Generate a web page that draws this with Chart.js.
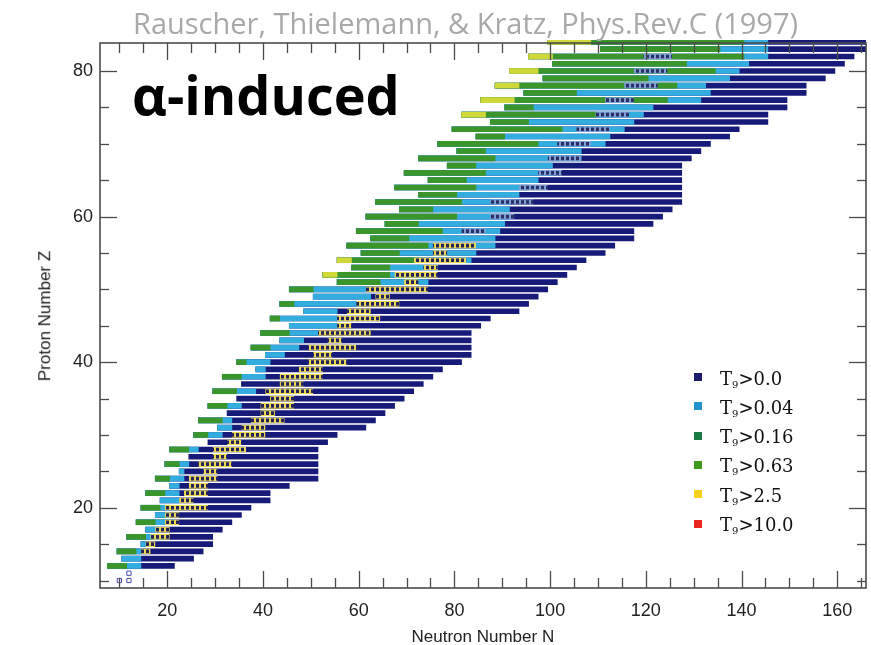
<!DOCTYPE html>
<html>
<head>
<meta charset="utf-8">
<script src="https://cdn.jsdelivr.net/npm/chart.js@4.4.0/dist/chart.umd.min.js"></script>
<style>
body{margin:0;background:#fff;}
#wrap{position:relative;width:871px;height:645px;overflow:hidden;}
#wrap canvas{position:absolute;left:0;top:0;}
.txt{position:absolute;white-space:nowrap;line-height:1;}
#source{left:133px;top:3px;font:29px "Open Sans";color:#a9a9a9;}
#tag{left:132px;top:57px;font:bold 54px "Open Sans";color:#000;}
#xtitle{top:627px;font:17px "Liberation Sans";color:#222;}
#ytitle{font:17px "Liberation Sans";color:#222;}
.legbox{position:absolute;width:8px;height:8px;}
.legtxt{position:absolute;left:720px;font:18px "DejaVu Serif";color:#111;white-space:nowrap;line-height:1;}
.legtxt sub{font-size:10px;vertical-align:-3px;}
</style>
</head>
<body>
<div id="wrap">
  <canvas id="chart" width="871" height="645"></canvas>
  <div class="txt" id="source">Rauscher, Thielemann, &amp; Kratz, Phys.Rev.C (1997)</div>
  <div class="txt" id="tag">α-induced</div>
  <div class="txt" id="xtitle">Neutron Number N</div>
  <div class="txt" id="ytitle">Proton Number Z</div>
</div>
<script>
//--------------------------------------------------
// DATA
//--------------------------------------------------

// one row per proton number
const protonZ = [
  12,13,14,15,16,17,18,19,20,21,
  22,23,24,25,26,27,28,29,30,31,
  32,33,34,35,36,37,38,39,40,41,
  42,43,44,45,46,47,48,49,50,51,
  52,53,54,55,56,57,58,59,60,61,
  62,63,64,65,66,67,68,69,70,71,
  72,73,74,75,76,77,78,79,80,81,
  82,83,84
];

// lightest / heaviest neutron number in each row
const nMin = [
  8,11,10,15,12,16,14,18,15,19,
  16,21,18,23,20,25,21,29,26,31,
  27,33,29,35,30,36,32,39,35,41,
  38,44,40,46,42,49,44,51,46,56,
  53,59,56,61,58,63,60,66,62,69,
  64,73,68,75,70,79,73,81,77,85,
  80,88,82,91,86,95,89,99,92,101,
  96,111,100
];
const nMax = [
  21,25,27,29,29,31,33,35,37,41,
  41,45,51,51,51,51,51,53,55,61,
  63,65,67,69,71,73,75,77,81,83,
  83,83,83,85,87,93,95,97,99,101,
  103,105,107,111,113,117,117,121,123,125,
  127,127,127,127,127,127,129,131,133,137,
  139,145,145,149,149,153,153,157,159,161,
  163,166,166
];

// last N of each colour band, counted from nMin (0 = no band)
const yellowEnd = [
  0,0,0,0,0,0,0,0,0,0,
  0,0,0,0,0,0,0,0,0,0,
  0,0,0,0,0,0,0,0,0,0,
  0,0,0,0,0,0,0,0,0,0,
  55,0,58,0,0,0,0,0,0,0,
  0,0,0,0,0,0,0,0,0,0,
  0,0,86,0,92,0,93,0,97,0,
  100,0,108
];
const greenEnd = [
  11,0,13,0,15,0,17,0,18,0,
  19,0,20,0,22,0,24,0,28,0,
  31,0,32,0,34,0,35,0,36,0,
  41,0,45,0,43,0,46,0,50,64,
  66,66,72,68,74,70,77,72,80,75,
  81,80,84,82,86,84,88,86,97,90,
  102,95,109,96,124,105,126,120,134,128,
  140,135,140
];
const cyanEnd = [
  14,14,15,15,19,18,21,20,20,22,
  22,22,23,23,24,0,26,0,31,33,
  33,0,35,0,38,0,40,40,41,44,
  47,48,51,55,55,55,60,62,62,74,
  74,76,83,84,88,88,89,90,91,91,
  91,93,95,97,100,100,106,106,111,112,
  115,117,119,121,131,133,132,137,139,141,
  145,145,145
];

// stable nuclei along the valley
const stableLo = [
  0,0,15,16,17,18,20,20,20,23,
  24,25,25,28,27,30,30,33,34,36,
  38,40,40,42,41,44,44,48,50,51,
  50,54,52,56,56,58,60,64,62,70,
  68,74,72,76,76,0,82,0,88,0,
  88,0,94,0,98,0,100,0,102,0,
  106,0,110,0,112,0,116,0,118,0,
  120,0,0
];
const stableHi = [
  0,0,16,17,20,20,22,22,28,25,
  28,28,30,30,33,32,36,35,40,40,
  44,42,46,46,50,48,52,52,57,54,
  59,56,62,58,64,62,68,66,74,72,
  76,76,82,78,84,0,86,0,92,0,
  96,0,99,0,102,0,106,0,108,0,
  112,0,116,0,117,0,122,0,124,0,
  125,0,0
];

// light nuclei drawn as open squares
const lightN = [10, 12, 12];
const lightZ = [10, 10, 11];

const xTickValues = [20, 40, 60, 80, 100, 120, 140, 160];
const yTickValues = [20, 40, 60, 80];

const legendThresholds = ['0.0', '0.04', '0.16', '0.63', '2.5', '10.0'];
const legendColors = ['#1b1b6b', '#1e96cc', '#1a7a44', '#3e9a1c', '#f2d21a', '#e8261e'];

//--------------------------------------------------
// BUILD BARS
//--------------------------------------------------

function band(endArr){
  const out = [];
  protonZ.forEach((z, i) => {
    if(endArr[i] >= nMin[i]) out.push({y: z, x: [nMin[i] - 0.5, endArr[i] + 0.5]});
  });
  return out;
}

function stableBand(){
  const out = [];
  protonZ.forEach((z, i) => {
    if(stableLo[i] > 0) out.push({y: z, x: [stableLo[i] - 0.5, stableHi[i] + 0.5]});
  });
  return out;
}

// little boxed dots (ring colour around a dark core)
function dotPattern(ring, core){
  const c = document.createElement('canvas');
  c.width = 5; c.height = 1;
  const g = c.getContext('2d');
  g.fillStyle = ring; g.fillRect(0, 0, 5, 1);
  g.fillStyle = core; g.fillRect(1, 0, 3, 1);
  return g.createPattern(c, 'repeat');
}
const yellowDots = dotPattern('#ecd850', '#23235e');
const blueDots = dotPattern('#7d9fd4', '#2a2f66');

function barSet(data, color, order){
  return {
    type: 'bar', indexAxis: 'y', data, order,
    backgroundColor: color, borderWidth: 0,
    barThickness: 5, grouped: false,
    clip: {left: 0, top: 3, right: 0, bottom: 0}
  };
}

const datasets = [
  barSet(band(nMax), '#161a78', 6),
  barSet(band(cyanEnd), '#33ade0', 5),
  barSet(band(greenEnd), '#3a952a', 4),
  barSet(band(yellowEnd), '#cfd838', 3),
  Object.assign(barSet(stableBand(), '#2a2a66', 2), {
    backgroundColor: c => (c.raw && c.raw.y > 56) ? blueDots : yellowDots,
    borderColor: c => (c.raw && c.raw.y > 56) ? '#7d9fd4' : '#ecd850',
    borderWidth: {top: 1, bottom: 1, left: 0, right: 0},
    borderSkipped: false
  }),
  {
    type: 'scatter', order: 1,
    data: lightN.map((n, i) => ({x: n, y: lightZ[i]})),
    pointStyle: 'rect', pointRadius: 3,
    backgroundColor: '#fff', borderColor: '#4a4ab8', borderWidth: 1
  }
];

//--------------------------------------------------
// FRAME + INWARD TICKS
//--------------------------------------------------

function line(ctx, x1, y1, x2, y2){
  ctx.beginPath(); ctx.moveTo(x1, y1); ctx.lineTo(x2, y2); ctx.stroke();
}

const frameTicks = {
  id: 'frameTicks',
  afterDatasetsDraw(chart){
    const {ctx, chartArea: a, scales: {x, y}} = chart;
    ctx.save();
    ctx.strokeStyle = '#4b4b4b';
    ctx.lineWidth = 1.6;
    ctx.strokeRect(a.left, a.top, a.right - a.left, a.bottom - a.top);
    ctx.lineWidth = 1.3;
    for(let n = 10; n <= 165; n += 5){
      const px = Math.round(x.getPixelForValue(n)) + 0.5;
      const len = n % 20 === 0 ? 17 : 10;
      line(ctx, px, a.bottom, px, a.bottom - len);
      line(ctx, px, a.top, px, a.top + len);
    }
    for(let z = 10; z <= 80; z += 5){
      const py = Math.round(y.getPixelForValue(z)) + 0.5;
      const len = z % 20 === 0 ? 17 : 9;
      line(ctx, a.left, py, a.left + len, py);
      line(ctx, a.right, py, a.right - len, py);
    }
    ctx.restore();
  }
};

//--------------------------------------------------
// CHART
//--------------------------------------------------

const tickFont = {family: 'Liberation Sans', size: 18};

new Chart(document.getElementById('chart'), {
  type: 'bar',
  data: {datasets},
  options: {
    responsive: false,
    animation: false,
    layout: {padding: {top: 43, left: 0, right: 0, bottom: 0}},
    plugins: {legend: {display: false}, tooltip: {enabled: false}},
    scales: {
      x: {
        type: 'linear', min: 5.95, max: 166, offset: false,
        grid: {display: false, drawTicks: false, offset: false}, border: {display: false},
        afterBuildTicks: s => { s.ticks = xTickValues.map(v => ({value: v})); },
        afterFit: s => { s.height = 57; },
        ticks: {font: tickFont, color: '#222', padding: 12, maxRotation: 0, autoSkip: false}
      },
      y: {
        type: 'linear', min: 8.97, max: 83.85, offset: false,
        grid: {display: false, drawTicks: false, offset: false}, border: {display: false},
        afterBuildTicks: s => { s.ticks = yTickValues.map(v => ({value: v})); },
        afterFit: s => { s.width = 100; },
        ticks: {font: tickFont, color: '#222', padding: 7, autoSkip: false}
      }
    }
  },
  plugins: [frameTicks]
});

//--------------------------------------------------
// LEGEND + AXIS TITLES (html text)
//--------------------------------------------------

const wrap = document.getElementById('wrap');
legendThresholds.forEach((t, i) => {
  const cy = 377 + i * 29.3;
  const box = document.createElement('div');
  box.className = 'legbox';
  box.style.left = '694px';
  box.style.top = (cy - 4) + 'px';
  box.style.background = legendColors[i];
  wrap.appendChild(box);
  const txt = document.createElement('div');
  txt.className = 'legtxt';
  txt.style.top = (cy - 7.5) + 'px';
  txt.innerHTML = 'T<sub>9</sub>&gt;' + t;
  wrap.appendChild(txt);
});

const xt = document.getElementById('xtitle');
xt.style.left = (483 - xt.offsetWidth / 2) + 'px';

const yt = document.getElementById('ytitle');
yt.style.left = (45 - yt.offsetWidth / 2) + 'px';
yt.style.top = (316 - yt.offsetHeight / 2) + 'px';
yt.style.transform = 'rotate(-90deg)';
</script>
</body>
</html>
